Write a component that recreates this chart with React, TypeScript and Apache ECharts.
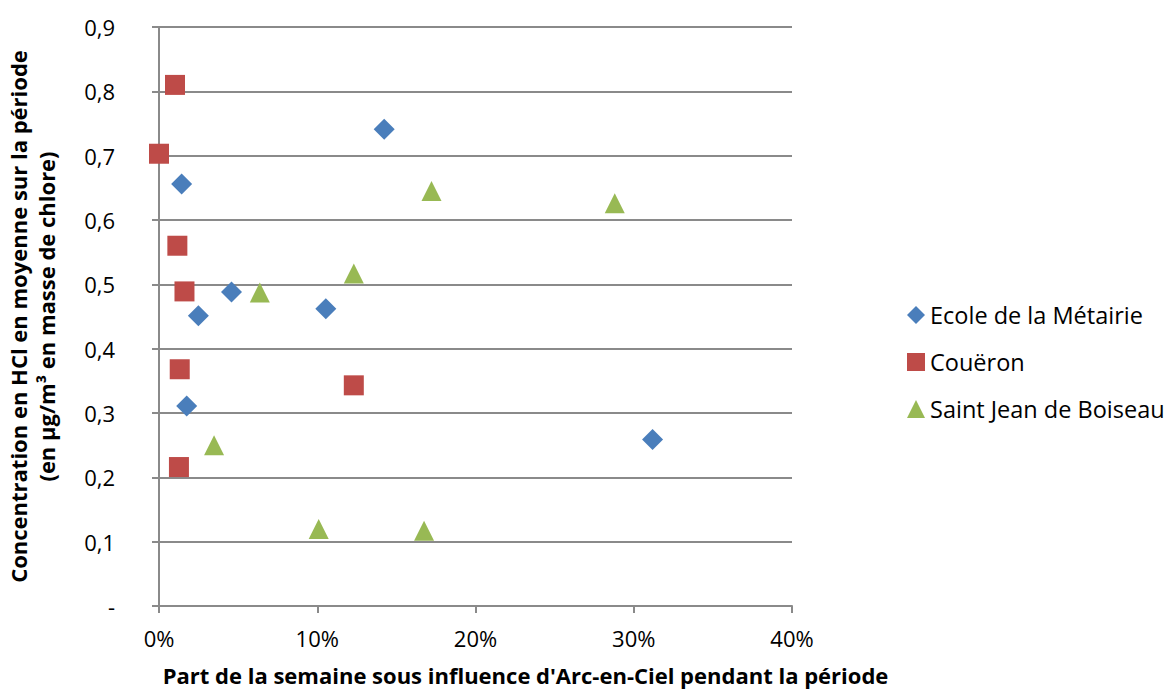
import React, { useEffect, useRef } from "react";
import * as echarts from "echarts";

// Share of the week under Arc-en-Ciel influence (fraction) vs. mean HCl concentration
const ecoleX = [0.0143, 0.1423, 0.0458, 0.0249, 0.1054, 0.0175, 0.3119];
const ecoleY = [0.656, 0.741, 0.488, 0.451, 0.462, 0.311, 0.259];

const coueronX = [0.0101, 0.0, 0.0116, 0.0161, 0.0131, 0.1231, 0.0126];
const coueronY = [0.81, 0.703, 0.56, 0.489, 0.368, 0.343, 0.216];

const boiseauX = [0.0637, 0.1231, 0.1722, 0.288, 0.0348, 0.1009, 0.1675];
const boiseauY = [0.4875, 0.517, 0.645, 0.626, 0.25, 0.1197, 0.117];

const seriesNames = ["Ecole de la Métairie", "Couëron", "Saint Jean de Boiseau"];

const FONT = "'Open Sans', 'Liberation Sans', sans-serif";
const GRID = "#8a8a8a";

function pairs(xs: number[], ys: number[]) {
  return xs.map((x, i) => [x, ys[i]]);
}

export default function App() {
  const ref = useRef<HTMLDivElement>(null);

  useEffect(() => {
    if (!ref.current) return;
    const chart = echarts.init(ref.current, undefined, { renderer: "svg" });
    chart.setOption({
      animation: false,
      backgroundColor: "#ffffff",
      textStyle: { fontFamily: FONT },
      grid: {
        left: 159,
        right: 373,
        top: 27,
        bottom: 87,
        containLabel: false,
        outerBoundsMode: "none",
      },
      legend: {
        orient: "vertical",
        left: 902,
        top: 298,
        itemGap: 23,
        itemWidth: 18,
        itemHeight: 18,
        textStyle: { fontFamily: FONT, fontSize: 23.5, color: "#000" },
        data: [
          { name: seriesNames[0], icon: "diamond" },
          { name: seriesNames[1], icon: "rect" },
          { name: seriesNames[2], icon: "triangle" },
        ],
      },
      xAxis: {
        type: "value",
        min: 0,
        max: 0.4,
        interval: 0.1,
        name: "Part de la semaine sous influence d'Arc-en-Ciel pendant la période",
        nameLocation: "middle",
        nameGap: 58,
        nameTextStyle: {
          fontFamily: FONT,
          fontSize: 22,
          fontWeight: "bold",
          color: "#000",
          padding: [0, 0, 0, 100],
        },
        axisLine: { show: true, lineStyle: { color: GRID, width: 2 } },
        axisTick: { show: true, length: 7, lineStyle: { color: GRID, width: 2 } },
        splitLine: { show: false },
        axisLabel: {
          margin: 21,
          fontFamily: FONT,
          fontSize: 22,
          color: "#000",
          formatter: (v: number) => `${Math.round(v * 100)}%`,
        },
      },
      yAxis: {
        type: "value",
        min: 0,
        max: 0.9,
        interval: 0.1,
        name: "Concentration en HCl en moyenne sur la période\n(en µg/m³ en masse de chlore)",
        nameLocation: "middle",
        nameGap: 99,
        nameRotate: 90,
        nameTextStyle: {
          fontFamily: FONT,
          fontSize: 22,
          fontWeight: "bold",
          color: "#000",
          lineHeight: 28,
        },
        axisLine: { show: true, lineStyle: { color: GRID, width: 2 } },
        axisTick: { show: true, length: 7, lineStyle: { color: GRID, width: 2 } },
        splitLine: { show: true, lineStyle: { color: GRID, width: 2 } },
        axisLabel: {
          margin: 44,
          fontFamily: FONT,
          fontSize: 22,
          color: "#000",
          formatter: (v: number) => (v === 0 ? "-" : v.toFixed(1).replace(".", ",")),
        },
      },
      series: [
        {
          name: seriesNames[0],
          type: "scatter",
          symbol: "diamond",
          symbolSize: 21,
          itemStyle: { color: "#4A7EBB", opacity: 1 },
          data: pairs(ecoleX, ecoleY),
        },
        {
          name: seriesNames[1],
          type: "scatter",
          symbol: "rect",
          symbolSize: 20,
          itemStyle: { color: "#BE4B48", opacity: 1 },
          data: pairs(coueronX, coueronY),
        },
        {
          name: seriesNames[2],
          type: "scatter",
          symbol: "triangle",
          symbolSize: 20,
          itemStyle: { color: "#98B954", opacity: 1 },
          data: pairs(boiseauX, boiseauY),
        },
      ],
    });
    return () => chart.dispose();
  }, []);

  return (
    <div
      ref={ref}
      style={{ position: "fixed", left: 0, top: 0, width: 1165, height: 693, background: "#fff" }}
    />
  );
}
